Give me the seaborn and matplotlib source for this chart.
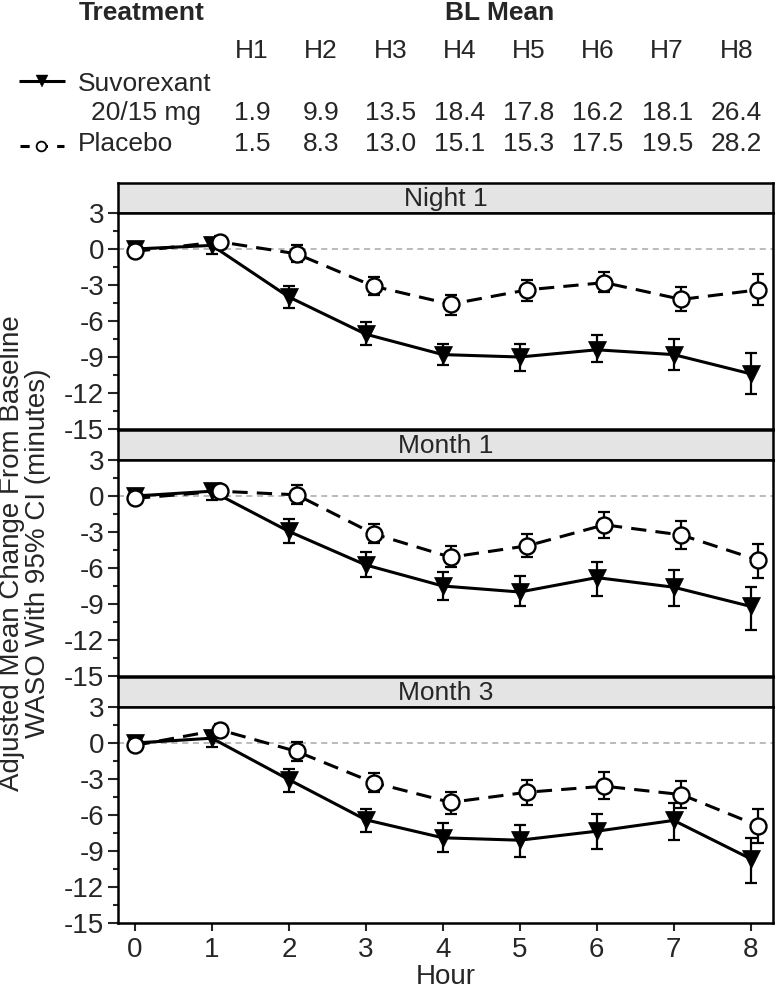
import numpy as np
import pandas as pd
import matplotlib
matplotlib.use("Agg")
import matplotlib.pyplot as plt
import seaborn as sns
from matplotlib.ticker import MultipleLocator

# ---------------- data ----------------
hours = [0, 1, 2, 3, 4, 5, 6, 7, 8]
visits = ["Night 1", "Month 1", "Month 3"]
treatments = ["Suvorexant 20/15 mg", "Placebo"]

# Night 1
suv_n1_mean = [0.0, 0.3, -4.0, -7.1, -8.8, -9.0, -8.4, -8.8, -10.4]
suv_n1_lo = [0.0, -0.4, -4.9, -8.0, -9.7, -10.2, -9.4, -10.1, -12.1]
suv_n1_hi = [0.0, 0.9, -3.1, -6.1, -7.9, -7.9, -7.2, -7.5, -8.7]
plc_n1_mean = [-0.2, 0.6, -0.4, -3.1, -4.6, -3.4, -2.8, -4.2, -3.4]
plc_n1_lo = [-0.2, 0.0, -1.1, -3.8, -5.5, -4.3, -3.6, -5.2, -4.7]
plc_n1_hi = [-0.2, 1.1, 0.3, -2.3, -3.8, -2.6, -1.9, -3.2, -2.1]

# Month 1
suv_m1_mean = [0.0, 0.4, -2.95, -5.75, -7.5, -8.0, -6.8, -7.6, -9.2]
suv_m1_lo = [0.0, -0.3, -3.95, -6.75, -8.7, -9.2, -8.3, -9.2, -11.2]
suv_m1_hi = [0.0, 0.9, -1.95, -4.7, -6.3, -6.7, -5.5, -6.2, -7.55]
plc_m1_mean = [-0.2, 0.4, 0.1, -3.15, -5.1, -4.15, -2.4, -3.25, -5.35]
plc_m1_lo = [-0.2, -0.1, -0.65, -3.95, -5.95, -5.1, -3.5, -4.45, -6.8]
plc_m1_hi = [-0.2, 0.8, 0.9, -2.3, -4.2, -3.2, -1.3, -2.1, -4.0]

# Month 3
suv_m3_mean = [0.0, 0.4, -3.05, -6.4, -7.9, -8.1, -7.35, -6.45, -9.65]
suv_m3_lo = [0.0, -0.3, -4.1, -7.4, -9.1, -9.5, -8.8, -8.1, -11.7]
suv_m3_hi = [0.0, 0.9, -2.15, -5.5, -6.7, -6.8, -5.95, -5.0, -7.9]
plc_m3_mean = [-0.2, 1.1, -0.7, -3.3, -4.95, -4.1, -3.6, -4.3, -6.9]
plc_m3_lo = [-0.2, 0.6, -1.5, -4.1, -5.95, -5.15, -4.7, -5.4, -8.3]
plc_m3_hi = [-0.2, 1.6, 0.05, -2.5, -4.05, -3.1, -2.45, -3.15, -5.5]

# Baseline means table
bl_labels = ["H1", "H2", "H3", "H4", "H5", "H6", "H7", "H8"]
suv_bl = [1.9, 9.9, 13.5, 18.4, 17.8, 16.2, 18.1, 26.4]
plc_bl = [1.5, 8.3, 13.0, 15.1, 15.3, 17.5, 19.5, 28.2]

yticks = [3, 0, -3, -6, -9, -12, -15]

series = {
    ("Night 1", treatments[0]): (suv_n1_mean, suv_n1_lo, suv_n1_hi),
    ("Night 1", treatments[1]): (plc_n1_mean, plc_n1_lo, plc_n1_hi),
    ("Month 1", treatments[0]): (suv_m1_mean, suv_m1_lo, suv_m1_hi),
    ("Month 1", treatments[1]): (plc_m1_mean, plc_m1_lo, plc_m1_hi),
    ("Month 3", treatments[0]): (suv_m3_mean, suv_m3_lo, suv_m3_hi),
    ("Month 3", treatments[1]): (plc_m3_mean, plc_m3_lo, plc_m3_hi),
}
rows = []
for (v, t), (m, lo, hi) in series.items():
    for h, a, b, c in zip(hours, m, lo, hi):
        rows.append(dict(visit=v, trt=t, hour=h, mean=a, lo=b, hi=c))
df = pd.DataFrame(rows)
# small horizontal dodge for placebo
df["x"] = df["hour"] + np.where((df["trt"] == "Placebo") & (df["hour"] > 0), 0.1, 0.0)

# ---------------- style ----------------
sns.set_style("ticks")
plt.rcParams["font.family"] = ["Liberation Sans", "DejaVu Sans"]
plt.rcParams["axes.unicode_minus"] = False

W, H = 775, 990
fig = plt.figure(figsize=(W / 100, H / 100), dpi=100)

left_px, right_px = 118, 773
panel_px = [(183, 213, 429), (430, 460, 676), (677, 707, 923)]  # strip top, axes top, axes bottom
SPW = 1.8

def fx(px):
    return px / W

def fy(py):
    return 1 - py / H

styles = {
    treatments[0]: dict(marker="v", linestyle="-", markerfacecolor="black",
                        markeredgecolor="black", markeredgewidth=0.5, markersize=13.5),
    treatments[1]: dict(marker="o", linestyle=(0, (5, 3)), markerfacecolor="white",
                        markeredgecolor="black", markeredgewidth=1.7, markersize=11.5),
}
zorders = {treatments[0]: (2.0, 3.0), treatments[1]: (2.5, 4.0)}

axes = []
for i, (visit, (st, at, ab)) in enumerate(zip(visits, panel_px)):
    # strip
    sax = fig.add_axes([fx(left_px), fy(at), fx(right_px) - fx(left_px), (at - st) / H])
    sax.set_facecolor("#e4e4e4")
    sax.set_xticks([])
    sax.set_yticks([])
    for sp in sax.spines.values():
        sp.set_linewidth(SPW)
        sp.set_color("black")
        sp.set_visible(True)
    sax.text(0.5, 0.47, visit, ha="center", va="center", fontsize=19, transform=sax.transAxes)

    ax = fig.add_axes([fx(left_px), fy(ab), fx(right_px) - fx(left_px), (ab - at) / H])
    axes.append(ax)
    ax.axhline(0, color="#a8a8a8", lw=1.1, linestyle=(0, (4, 3)), zorder=1)
    for trt in treatments:
        sub = df[(df["visit"] == visit) & (df["trt"] == trt)]
        ez, lz = zorders[trt]
        ax.errorbar(sub["x"], sub["mean"],
                    yerr=[sub["mean"] - sub["lo"], sub["hi"] - sub["mean"]],
                    fmt="none", ecolor="black", elinewidth=1.6, capsize=4.5,
                    capthick=1.6, zorder=ez)
        sns.lineplot(data=sub, x="x", y="mean", ax=ax, color="black", lw=2.2,
                     errorbar=None, sort=False, legend=False, zorder=lz,
                     **styles[trt])
    ax.set_xlim(-0.22, 8.29)
    ax.set_ylim(-15, 3)
    ax.set_yticks(yticks)
    ax.set_yticklabels([str(t) for t in yticks])
    ax.yaxis.set_minor_locator(MultipleLocator(1.5))
    ax.tick_params(axis="y", which="major", direction="out", length=7, width=1.5,
                   labelsize=20, pad=3)
    ax.tick_params(axis="y", which="minor", direction="out", length=3.5, width=1.5)
    for sp in ax.spines.values():
        sp.set_linewidth(SPW)
        sp.set_color("black")
        sp.set_visible(True)
    ax.set_ylabel("")
    if i < 2:
        ax.set_xticks([])
        ax.set_xlabel("")
    else:
        ax.set_xticks(hours)
        ax.set_xticklabels([str(h) for h in hours])
        ax.tick_params(axis="x", direction="out", length=6, width=1.5, labelsize=20, pad=4)
        ax.set_xlabel("Hour", fontsize=20, labelpad=1)

fig.text(fx(25), fy(553), "Adjusted Mean Change From Baseline\nWASO With 95% CI (minutes)",
         rotation=90, ha="center", va="center", fontsize=20, linespacing=1.0,
         multialignment="center")

# ---------------- header table ----------------
hax = fig.add_axes([0, fy(183), 1, 183 / H])
hax.set_xlim(0, W)
hax.set_ylim(183, 0)
hax.axis("off")
FS = 19
hax.text(79, 20, "Treatment", fontsize=FS, fontweight="bold", ha="left", va="baseline")
hax.text(500, 20, "BL Mean", fontsize=FS, fontweight="bold", ha="center", va="baseline")
col_x = 252 + 69.2 * np.arange(len(bl_labels))
for cx, lab, sv, pv in zip(col_x, bl_labels, suv_bl, plc_bl):
    hax.text(cx, 58, lab, fontsize=FS, ha="center", va="baseline")
    hax.text(cx, 120, f"{sv:.1f}", fontsize=FS, ha="center", va="baseline")
    hax.text(cx, 151, f"{pv:.1f}", fontsize=FS, ha="center", va="baseline")

hax.plot([19, 65], [81, 81], color="black", lw=2.2, solid_capstyle="butt")
hax.plot([42], [81], marker="v", markersize=9, color="black", markeredgewidth=0.3)
hax.text(78, 91, "Suvorexant", fontsize=FS, ha="left", va="baseline")
hax.text(91, 120, "20/15 mg", fontsize=FS, ha="left", va="baseline")

hax.plot([20, 64], [146, 146], color="black", lw=2.2, linestyle=(0, (3, 3)),
         dash_capstyle="butt")
hax.plot([40.5], [146], marker="o", markersize=7, markerfacecolor="white",
         markeredgecolor="black", markeredgewidth=1.3)
hax.text(78, 151, "Placebo", fontsize=FS, ha="left", va="baseline")

fig.savefig("out.png", dpi=100)
